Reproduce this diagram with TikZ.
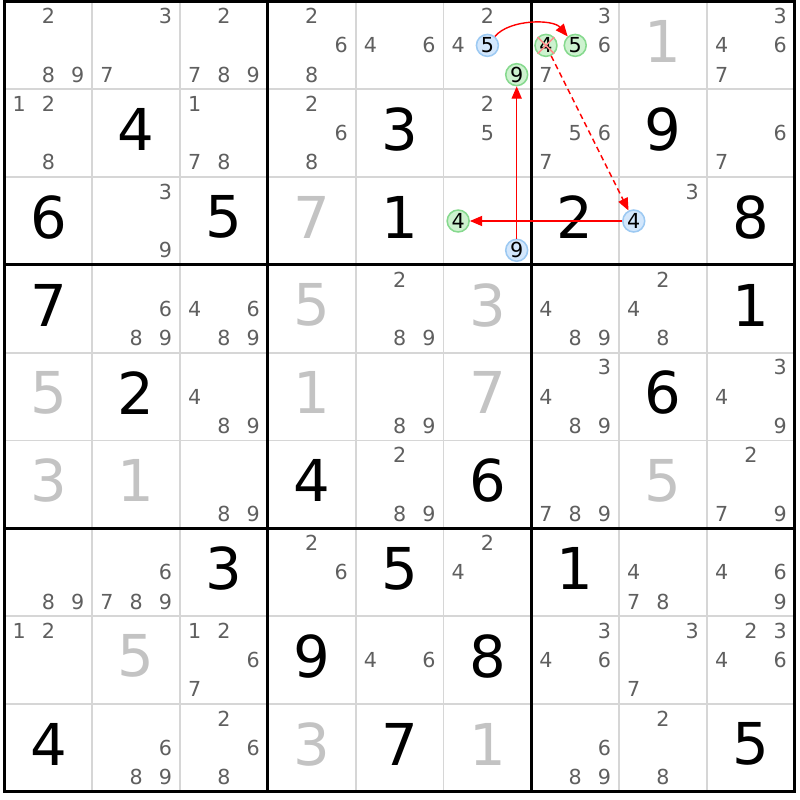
\documentclass[tikz,border=0pt]{standalone}
\usepackage{fontspec}
\setmainfont{DejaVu Sans}
\usetikzlibrary{arrows.meta}
\definecolor{candgray}{HTML}{5F5F5F}
\definecolor{donegray}{HTML}{C3C3C3}
\definecolor{linegray}{HTML}{D6D6D6}
\definecolor{bluefill}{HTML}{D3E7FC}
\definecolor{bluering}{HTML}{9CC9F2}
\definecolor{greenfill}{HTML}{CDF2CF}
\definecolor{greenring}{HTML}{86D98E}
\tikzset{
    clue/.style = {
        font=\fontsize{18.7}{20}\selectfont,
        black,
        yshift=1.2pt
    },
    found/.style = {
        clue,
        donegray
    },
    cand/.style = {
        font=\fontsize{6.7}{8}\selectfont,
        candgray,
        inner sep=0pt
    },
    source/.style = {
        circle,
        draw=bluering,
        fill=bluefill,
        line width=0.5pt,
        minimum size=0.25cm,
        inner sep=0pt,
        font=\fontsize{6.7}{8}\selectfont
    },
    target/.style = {
        source,
        draw=greenring,
        fill=greenfill
    },
    cellline/.style = {
        line width=0.6pt,
        linegray
    },
    boxline/.style = {
        line width=1pt,
        black,
        line cap=rect
    },
    link/.style = {
        red,
        line width=0.45pt,
        -{Triangle[length=4pt,width=3.3pt]}
    },
    weak/.style = {
        link,
        dash pattern=on 1.8pt off 1.2pt
    },
    strike/.style = {
        line width=0.5pt,
        red!45
    }
}

\begin{document}
\begin{tikzpicture}[x=1cm,y=-1cm]
    \useasboundingbox (-0.051,-0.017) rectangle (9.06,9.094);
    % Cell contents
    \newcommand\Clue[3]{\node[clue] (v#2#1) at (#1+0.5,#2+0.5) {#3};}
    \newcommand\Found[3]{\node[found] (v#2#1) at (#1+0.5,#2+0.5) {#3};}
    \newcommand\Cands[3]{
        \foreach \d [evaluate=\d as \sx using {#1+(2*mod(\d-1,3)+1)/6},
                     evaluate=\d as \sy using {#2+(2*int((\d-1)/3)+1)/6}] in {#3}
            \node[cand] (c#2#1\d) at (\sx,\sy) {\d};
    }
    \newcommand\Spot[4]{\node[#1] (c#3#2#4) at ({#2+(2*mod(#4-1,3)+1)/6},{#3+(2*int((#4-1)/3)+1)/6}) {#4};}

    %Grid
    \foreach \i in {1,2,4,5,7,8} {
        \draw[cellline] (\i,0) -- (\i,9);
        \draw[cellline] (0,\i) -- (9,\i);
    }
    \foreach \i in {0,3,6,9} {
        \draw[boxline] (\i,0) -- (\i,9);
        \draw[boxline] (0,\i) -- (9,\i);
    }

    %Row 1
    \Cands{0}{0}{2,8,9}
    \Cands{1}{0}{3,7}
    \Cands{2}{0}{2,7,8,9}
    \Cands{3}{0}{2,6,8}
    \Cands{4}{0}{4,6}
    \Cands{5}{0}{2,4}
    \Spot{source}{5}{0}{5}
    \Spot{target}{5}{0}{9}
    \Cands{6}{0}{3,6,7}
    \Spot{target}{6}{0}{4}
    \Spot{target}{6}{0}{5}
    \Found{7}{0}{1}
    \Cands{8}{0}{3,4,6,7}
    %Row 2
    \Cands{0}{1}{1,2,8}
    \Clue{1}{1}{4}
    \Cands{2}{1}{1,7,8}
    \Cands{3}{1}{2,6,8}
    \Clue{4}{1}{3}
    \Cands{5}{1}{2,5}
    \Cands{6}{1}{5,6,7}
    \Clue{7}{1}{9}
    \Cands{8}{1}{6,7}
    %Row 3
    \Clue{0}{2}{6}
    \Cands{1}{2}{3,9}
    \Clue{2}{2}{5}
    \Found{3}{2}{7}
    \Clue{4}{2}{1}
    \Spot{target}{5}{2}{4}
    \Spot{source}{5}{2}{9}
    \Clue{6}{2}{2}
    \Cands{7}{2}{3}
    \Spot{source}{7}{2}{4}
    \Clue{8}{2}{8}
    %Row 4
    \Clue{0}{3}{7}
    \Cands{1}{3}{6,8,9}
    \Cands{2}{3}{4,6,8,9}
    \Found{3}{3}{5}
    \Cands{4}{3}{2,8,9}
    \Found{5}{3}{3}
    \Cands{6}{3}{4,8,9}
    \Cands{7}{3}{2,4,8}
    \Clue{8}{3}{1}
    %Row 5
    \Found{0}{4}{5}
    \Clue{1}{4}{2}
    \Cands{2}{4}{4,8,9}
    \Found{3}{4}{1}
    \Cands{4}{4}{8,9}
    \Found{5}{4}{7}
    \Cands{6}{4}{3,4,8,9}
    \Clue{7}{4}{6}
    \Cands{8}{4}{3,4,9}
    %Row 6
    \Found{0}{5}{3}
    \Found{1}{5}{1}
    \Cands{2}{5}{8,9}
    \Clue{3}{5}{4}
    \Cands{4}{5}{2,8,9}
    \Clue{5}{5}{6}
    \Cands{6}{5}{7,8,9}
    \Found{7}{5}{5}
    \Cands{8}{5}{2,7,9}
    %Row 7
    \Cands{0}{6}{8,9}
    \Cands{1}{6}{6,7,8,9}
    \Clue{2}{6}{3}
    \Cands{3}{6}{2,6}
    \Clue{4}{6}{5}
    \Cands{5}{6}{2,4}
    \Clue{6}{6}{1}
    \Cands{7}{6}{4,7,8}
    \Cands{8}{6}{4,6,9}
    %Row 8
    \Cands{0}{7}{1,2}
    \Found{1}{7}{5}
    \Cands{2}{7}{1,2,6,7}
    \Clue{3}{7}{9}
    \Cands{4}{7}{4,6}
    \Clue{5}{7}{8}
    \Cands{6}{7}{3,4,6}
    \Cands{7}{7}{3,7}
    \Cands{8}{7}{2,3,4,6}
    %Row 9
    \Clue{0}{8}{4}
    \Cands{1}{8}{6,8,9}
    \Cands{2}{8}{2,6,8}
    \Found{3}{8}{3}
    \Clue{4}{8}{7}
    \Found{5}{8}{1}
    \Cands{6}{8}{6,8,9}
    \Cands{7}{8}{2,8}
    \Clue{8}{8}{5}

    %Removed candidate
    \draw[strike] (c064.north west) -- (c064.south east) (c064.north east) -- (c064.south west);

    %Chain
    \draw[link] (c055) to[out=50,in=130,looseness=0.8] (c065);
    \draw[weak] (c064) -- (c274);
    \draw[link] (c259) -- (c059);
    \draw[link] (c274) -- (c254);
\end{tikzpicture}
\end{document}
